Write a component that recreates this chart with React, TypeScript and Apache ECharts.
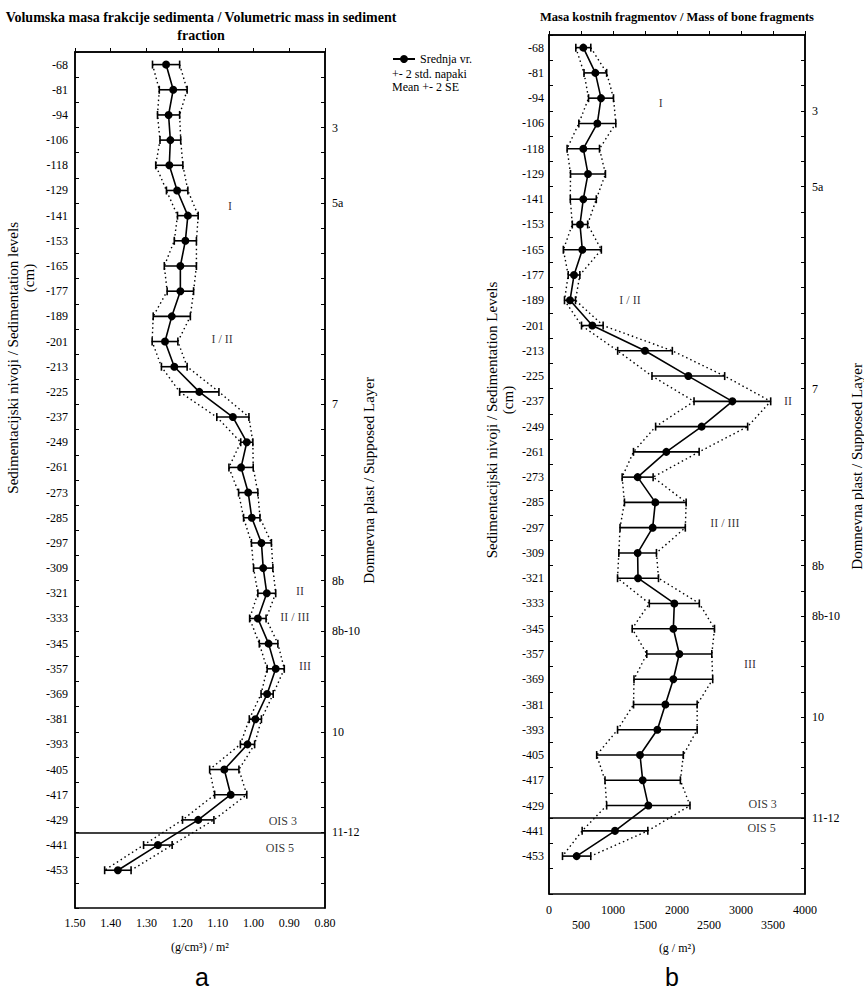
import React, { useEffect, useRef } from 'react';
import * as echarts from 'echarts';

const levels = [-68, -81, -94, -106, -118, -129, -141, -153, -165, -177, -189, -201, -213, -225, -237, -249, -261, -273, -285, -297, -309, -321, -333, -345, -357, -369, -381, -393, -405, -417, -429, -441, -453];

const volMean = [1.245, 1.225, 1.238, 1.233, 1.236, 1.214, 1.184, 1.191, 1.205, 1.205, 1.229, 1.248, 1.222, 1.152, 1.058, 1.019, 1.035, 1.015, 1.005, 0.978, 0.973, 0.963, 0.988, 0.958, 0.938, 0.962, 0.995, 1.017, 1.082, 1.064, 1.155, 1.268, 1.380];
const volErr = [0.038, 0.039, 0.031, 0.029, 0.038, 0.030, 0.029, 0.031, 0.045, 0.037, 0.052, 0.036, 0.036, 0.055, 0.045, 0.017, 0.034, 0.027, 0.023, 0.028, 0.027, 0.025, 0.023, 0.026, 0.024, 0.017, 0.017, 0.020, 0.041, 0.045, 0.044, 0.040, 0.037];

const boneMean = [536, 724, 813, 755, 536, 609, 536, 484, 521, 391, 328, 677, 1500, 2177, 2865, 2385, 1833, 1385, 1661, 1620, 1385, 1391, 1958, 1943, 2036, 1943, 1818, 1693, 1422, 1464, 1552, 1031, 432];
const boneErr = [117, 177, 195, 289, 253, 273, 203, 120, 297, 91, 86, 169, 427, 568, 599, 719, 513, 242, 482, 510, 294, 320, 391, 643, 508, 615, 497, 622, 677, 589, 651, 513, 221];

// supposed layers: position in level-band units (boundary index)
const layerPos = [3, 6, 14, 21, 23, 27, 31];
const layerLabels = ['3', '5a', '7', '8b', '8b-10', '10', '11-12'];
const oisBoundary = 31;

const volNotes = [
  { text: 'I', x: 1.066, y: 6.1 },
  { text: 'I / II', x: 1.088, y: 11.4 },
  { text: 'II', x: 0.870, y: 21.4 },
  { text: 'II / III', x: 0.884, y: 22.45 },
  { text: 'III', x: 0.856, y: 24.4 },
  { text: 'OIS 3', x: 0.918, y: 30.55 },
  { text: 'OIS 5', x: 0.926, y: 31.6 },
];
const boneNotes = [
  { text: 'I', x: 1745, y: 2.7 },
  { text: 'I / II', x: 1266, y: 10.5 },
  { text: 'II', x: 3734, y: 14.5 },
  { text: 'II / III', x: 2750, y: 19.3 },
  { text: 'III', x: 3141, y: 24.9 },
  { text: 'OIS 3', x: 3339, y: 30.45 },
  { text: 'OIS 5', x: 3323, y: 31.4 },
];

const SERIF = "'Liberation Serif', 'Times New Roman', serif";
const SANS = "'Liberation Sans', Arial, sans-serif";

const layerMap: Record<number, string> = {};
layerPos.forEach((p, i) => { layerMap[p] = layerLabels[i]; });

function panelSeries(gi: number, mean: number[], err: number[], notes: { text: string; x: number; y: number }[], withName: boolean) {
  const lo = mean.map((m, i) => [m - err[i], i]);
  const hi = mean.map((m, i) => [m + err[i], i]);
  const bars = mean.map((m, i) => [m - err[i], i, m + err[i]]);
  const dotted = { color: '#000', width: 1.4, type: [1.5, 3] as any };
  return [
    {
      type: 'line', xAxisIndex: gi, yAxisIndex: gi * 2, data: lo, symbol: 'none',
      lineStyle: dotted, silent: true, z: 1,
    },
    {
      type: 'line', xAxisIndex: gi, yAxisIndex: gi * 2, data: hi, symbol: 'none',
      lineStyle: dotted, silent: true, z: 1,
    },
    {
      type: 'custom', xAxisIndex: gi, yAxisIndex: gi * 2, data: bars, z: 2,
      encode: { x: [0, 2], y: 1 },
      renderItem: (params: any, api: any) => {
        const y = api.value(1);
        const a = api.coord([api.value(0), y]);
        const b = api.coord([api.value(2), y]);
        const h = 4;
        const st = { stroke: '#000', lineWidth: 1.6 };
        return {
          type: 'group',
          children: [
            { type: 'line', shape: { x1: a[0], y1: a[1], x2: b[0], y2: b[1] }, style: st },
            { type: 'line', shape: { x1: a[0], y1: a[1] - h, x2: a[0], y2: a[1] + h }, style: st },
            { type: 'line', shape: { x1: b[0], y1: b[1] - h, x2: b[0], y2: b[1] + h }, style: st },
          ],
        };
      },
    },
    {
      name: withName ? 'Srednja vr.' : 'mean' + gi,
      type: 'line', xAxisIndex: gi, yAxisIndex: gi * 2,
      data: mean.map((m, i) => [m, i]),
      symbol: 'circle', symbolSize: 8,
      itemStyle: { color: '#000' },
      lineStyle: { color: '#000', width: 1.6 },
      z: 3,
    },
    {
      type: 'scatter', xAxisIndex: gi, yAxisIndex: gi * 2 + 1,
      data: notes.map((n) => ({ name: n.text, value: [n.x, n.y] })),
      symbolSize: 0.1, itemStyle: { color: '#000' }, silent: true,
      label: {
        show: true, position: [0, 0], align: 'center', verticalAlign: 'middle',
        formatter: '{b}', color: '#000', fontSize: 12, fontFamily: SERIF,
      },
      markLine: {
        silent: true, symbol: ['none', 'none'],
        lineStyle: { color: '#000', width: 1.5, type: 'solid' },
        label: { show: false },
        data: [{ yAxis: oisBoundary }],
      },
      z: 4,
    },
  ];
}

function yAxes(gi: number) {
  const cats = levels.map(String).concat(['']);
  return [
    {
      type: 'category', gridIndex: gi, data: cats, inverse: true, boundaryGap: true,
      axisLine: { show: true, lineStyle: { color: '#000', width: 1.5 } },
      axisTick: { show: true, inside: true, length: 4, lineStyle: { color: '#000' } },
      axisLabel: { interval: 0, color: '#000', fontSize: 12, fontFamily: SERIF, margin: gi === 0 ? 7 : 5 },
      splitLine: { show: false },
    },
    {
      type: 'value', gridIndex: gi, min: 0, max: levels.length + 1, interval: 1, inverse: true, position: 'right',
      axisLine: { show: true, lineStyle: { color: '#000', width: 1.5 } },
      axisTick: { show: true, inside: true, length: 4, lineStyle: { color: '#000' } },
      axisLabel: {
        color: '#000', fontSize: 12, fontFamily: SERIF, margin: 7, align: 'left',
        showMinLabel: false, showMaxLabel: false,
        formatter: (v: number) => layerMap[v] || '',
      },
      splitLine: { show: false },
    },
  ];
}

export default function App() {
  const ref = useRef<HTMLDivElement>(null);
  useEffect(() => {
    if (!ref.current) return;
    const chart = echarts.init(ref.current, undefined, { renderer: 'svg' });
    const text = (t: string, x: number, y: number, o: any = {}) => ({
      type: 'text', x, y, rotation: o.rotation || 0,
      style: {
        text: t, fill: '#000', font: o.font || `12px ${SERIF}`,
        textAlign: o.align || 'center', textVerticalAlign: 'middle',
      },
    });
    const rot = Math.PI / 2;
    const nameFont = `15px ${SERIF}`;
    chart.setOption({
      animation: false,
      backgroundColor: '#fff',
      grid: [
        { left: 75, top: 52, width: 250, height: 856, show: true, borderColor: '#000', borderWidth: 1.5 },
        { left: 549, top: 35, width: 256, height: 859, show: true, borderColor: '#000', borderWidth: 1.5 },
      ],
      xAxis: [
        {
          type: 'value', gridIndex: 0, min: 0.8, max: 1.5, interval: 0.1, inverse: true,
          axisLine: { show: true, lineStyle: { color: '#000', width: 1.5 } },
          axisTick: { show: true, inside: true, length: 4, lineStyle: { color: '#000' } },
          axisLabel: { color: '#000', fontSize: 12, fontFamily: SERIF, margin: 9, formatter: (v: number) => v.toFixed(2) },
          splitLine: { show: false },
          name: '(g/cm³) / m²', nameLocation: 'middle', nameGap: 33,
          nameTextStyle: { color: '#000', fontSize: 12, fontFamily: SERIF },
        },
        {
          type: 'value', gridIndex: 1, min: 0, max: 4000, interval: 500,
          axisLine: { show: true, lineStyle: { color: '#000', width: 1.5 } },
          axisTick: { show: true, inside: true, length: 4, lineStyle: { color: '#000' } },
          axisLabel: {
            color: '#000', fontSize: 12, fontFamily: SERIF, margin: 8, lineHeight: 15,
            formatter: (v: number) => (v % 1000 === 0 ? String(v) : '\n' + v),
          },
          splitLine: { show: false },
          name: '(g / m²)', nameLocation: 'middle', nameGap: 48,
          nameTextStyle: { color: '#000', fontSize: 12, fontFamily: SERIF },
        },
      ],
      yAxis: [...yAxes(0), ...yAxes(1)],
      legend: {
        data: ['Srednja vr.'], left: 392, top: 53, itemWidth: 22, itemHeight: 10, itemGap: 4,
        padding: 0,
        textStyle: { color: '#000', fontSize: 12, fontFamily: SERIF },
      },
      graphic: [
        text('+- 2 std. napaki', 392, 74, { align: 'left' }),
        text('Mean +- 2 SE', 392, 87, { align: 'left' }),
        text('Volumska masa frakcije sedimenta / Volumetric mass in sediment', 201, 17, { font: `bold 14px ${SERIF}` }),
        text('fraction', 201, 35, { font: `bold 14px ${SERIF}` }),
        text('Masa kostnih fragmentov / Mass of bone fragments', 677, 17, { font: `bold 12.5px ${SERIF}` }),
        text('Sedimentacijski nivoji / Sedimentation levels', 13, 222, { rotation: rot, align: 'right', font: nameFont }),
        text('(cm)', 29, 278, { rotation: rot, font: nameFont }),
        text('Domnevna plast / Supposed Layer', 369, 377, { rotation: rot, align: 'right', font: nameFont }),
        text('Sedimentacijski nivoji / Sedimentation Levels', 492, 420, { rotation: rot, font: nameFont }),
        text('(cm)', 508, 400, { rotation: rot, font: nameFont }),
        text('Domnevna plast / Supposed Layer', 857, 363, { rotation: rot, align: 'right', font: nameFont }),
        text('a', 202, 977, { font: `25px ${SANS}` }),
        text('b', 672, 977, { font: `25px ${SANS}` }),
      ],
      series: [
        ...panelSeries(0, volMean, volErr, volNotes, true),
        ...panelSeries(1, boneMean, boneErr, boneNotes, false),
      ],
    });
    return () => chart.dispose();
  }, []);
  return <div ref={ref} style={{ position: 'absolute', left: 0, top: 0, width: 864, height: 992 }} />;
}
